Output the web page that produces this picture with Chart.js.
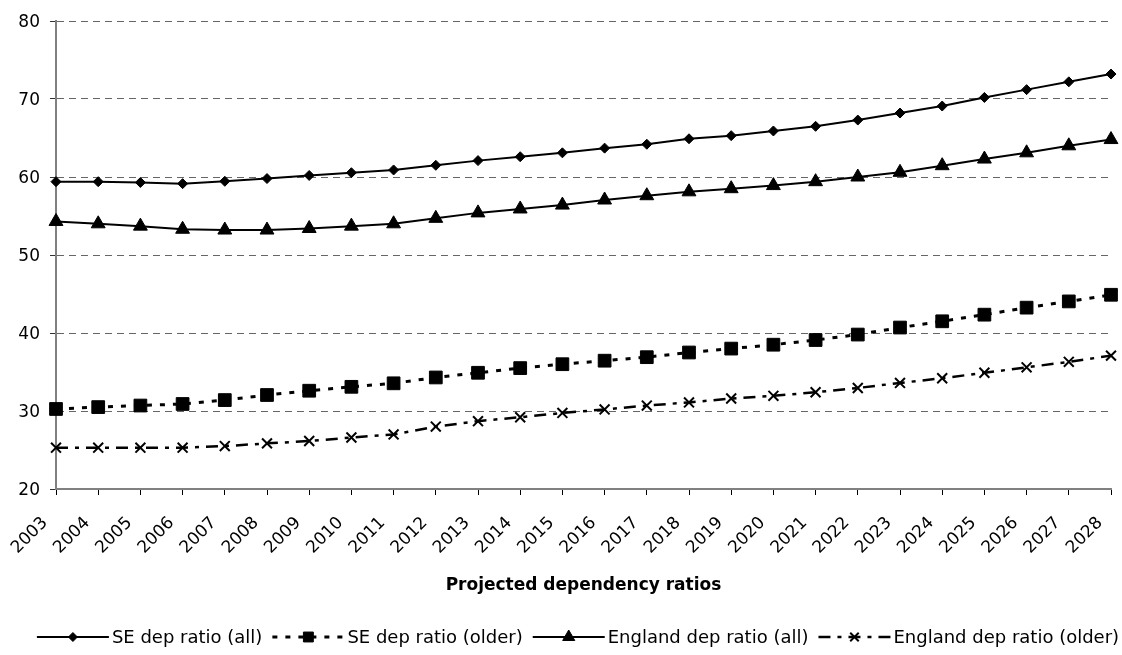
<!DOCTYPE html>
<html lang="en">
<head>
    <meta charset="UTF-8">
    <title>Projected dependency ratios</title>
    <script src="https://cdn.jsdelivr.net/npm/chart.js@4.4.0/dist/chart.umd.min.js"></script>
    <style>
        body { margin: 0; background: #fff; }
        #wrap { position: relative; width: 1122px; height: 655px; }
    </style>
</head>
<body>
    <div id="wrap"><canvas id="depChart" width="1122" height="655"></canvas></div>
    <script>
        const years = ['2003', '2004', '2005', '2006', '2007', '2008', '2009', '2010', '2011', '2012', '2013', '2014', '2015',
                       '2016', '2017', '2018', '2019', '2020', '2021', '2022', '2023', '2024', '2025', '2026', '2027', '2028'];
        const seAll = [59.4, 59.4, 59.3, 59.15, 59.45, 59.8, 60.2, 60.55, 60.9, 61.5, 62.1, 62.6, 63.1,
                       63.7, 64.2, 64.9, 65.3, 65.9, 66.5, 67.3, 68.2, 69.1, 70.2, 71.2, 72.2, 73.2];
        const seOlder = [30.26, 30.5, 30.7, 30.9, 31.4, 32.05, 32.6, 33.1, 33.55, 34.3, 34.9, 35.5, 36.0,
                         36.45, 36.9, 37.5, 38.0, 38.5, 39.1, 39.8, 40.7, 41.5, 42.35, 43.25, 44.05, 44.9];
        const engAll = [54.3, 54.0, 53.7, 53.3, 53.2, 53.2, 53.4, 53.7, 54.0, 54.7, 55.4, 55.9, 56.4,
                        57.05, 57.6, 58.1, 58.5, 58.9, 59.4, 60.0, 60.6, 61.45, 62.3, 63.1, 64.0, 64.8];
        const engOlder = [25.3, 25.3, 25.3, 25.3, 25.5, 25.85, 26.15, 26.6, 27.0, 28.0, 28.7, 29.2, 29.75,
                          30.2, 30.7, 31.1, 31.6, 31.95, 32.4, 32.95, 33.6, 34.2, 34.9, 35.6, 36.3, 37.1];
        const seriesNames = ['SE dep ratio (all)', 'SE dep ratio (older)', 'England dep ratio (all)', 'England dep ratio (older)'];
        const yTicks = [20, 30, 40, 50, 60, 70, 80];
        const chartTitle = 'Projected dependency ratios';

        const FONT = '"DejaVu Sans", Verdana, sans-serif';

        // marker sizes used in the small legend at the bottom
        const legendRadius = [4.5, 7, 7, 6];

        // draws line + marker + label for each series, like the old office legend
        const lineLegend = {
            id: 'lineLegend',
            afterDraw(chart) {
                const ctx = chart.ctx;
                const y = 637, lineLen = 72, gapText = 3, gapItem = 10;
                ctx.save();
                ctx.font = '18px ' + FONT;
                const dsets = chart.data.datasets;
                const widths = dsets.map(ds => ctx.measureText(ds.label).width);
                let total = gapItem * (dsets.length - 1);
                widths.forEach(w => total += lineLen + gapText + w);
                let x = 578 - total / 2;
                dsets.forEach((ds, i) => {
                    ctx.strokeStyle = '#000';
                    ctx.fillStyle = '#000';
                    ctx.lineWidth = ds.borderWidth;
                    ctx.setLineDash(ds.borderDash || []);
                    ctx.beginPath();
                    ctx.moveTo(x, y);
                    ctx.lineTo(x + lineLen, y);
                    ctx.stroke();
                    ctx.setLineDash([]);
                    ctx.lineWidth = ds.pointBorderWidth;
                    Chart.helpers.drawPoint(ctx, {
                        pointStyle: ds.pointStyle, rotation: 0,
                        radius: legendRadius[i], borderWidth: ds.pointBorderWidth
                    }, x + lineLen / 2, y);
                    ctx.textBaseline = 'middle';
                    ctx.textAlign = 'left';
                    ctx.fillText(ds.label, x + lineLen + gapText, y + 1);
                    x += lineLen + gapText + widths[i] + gapItem;
                });
                ctx.restore();
            }
        };

        function series(label, data, dash, style, radius, width) {
            return {
                label: label,
                data: data,
                borderColor: '#000',
                backgroundColor: '#000',
                borderWidth: width,
                borderDash: dash,
                pointStyle: style,
                pointRadius: radius,
                pointHoverRadius: radius,
                pointBackgroundColor: '#000',
                pointBorderColor: '#000',
                pointBorderWidth: style === 'crossRot' ? 2 : 1,
                tension: 0,
                fill: false
            };
        }

        new Chart(document.getElementById('depChart'), {
            type: 'line',
            data: {
                labels: years,
                datasets: [
                    series(seriesNames[0], seAll, [], 'rectRot', 5, 2),
                    series(seriesNames[1], seOlder, [5, 8], 'rect', 9, 3),
                    series(seriesNames[2], engAll, [], 'triangle', 8, 2),
                    series(seriesNames[3], engOlder, [12, 7, 4, 7], 'crossRot', 7, 2.5)
                ]
            },
            options: {
                responsive: false,
                animation: false,
                layout: { padding: { left: 0, right: 11, top: 21, bottom: 50 } },
                plugins: {
                    legend: { display: false },
                    tooltip: { enabled: false }
                },
                scales: {
                    x: {
                        type: 'category',
                        offset: false,
                        grid: { drawOnChartArea: false, drawTicks: true, tickLength: 6, color: '#000' },
                        border: { color: '#808080', width: 2 },
                        ticks: {
                            autoSkip: false, maxRotation: 45, minRotation: 45, padding: 18, labelOffset: -11,
                            color: '#000', font: { family: FONT, size: 17 }
                        },
                        title: {
                            display: true, text: chartTitle, color: '#000',
                            font: { family: FONT, size: 17, weight: 'bold' },
                            padding: { top: 0, bottom: 9 }
                        },
                        afterFit(scale) {
                            scale.height = 116;
                            scale.paddingLeft = 0;
                            scale.paddingRight = 0;
                        }
                    },
                    y: {
                        min: 20,
                        max: 80,
                        afterBuildTicks(scale) { scale.ticks = yTicks.map(v => ({ value: v })); },
                        grid: {
                            color: '#666', lineWidth: 1, tickLength: 6,
                            tickColor: '#333', tickBorderDash: []
                        },
                        border: { color: '#808080', width: 2, dash: [7, 5] },
                        ticks: { padding: 10, labelOffset: 2, color: '#000', font: { family: FONT, size: 17 } },
                        afterFit(scale) { scale.width = 56; }
                    }
                }
            },
            plugins: [lineLegend]
        });
    </script>
</body>
</html>
